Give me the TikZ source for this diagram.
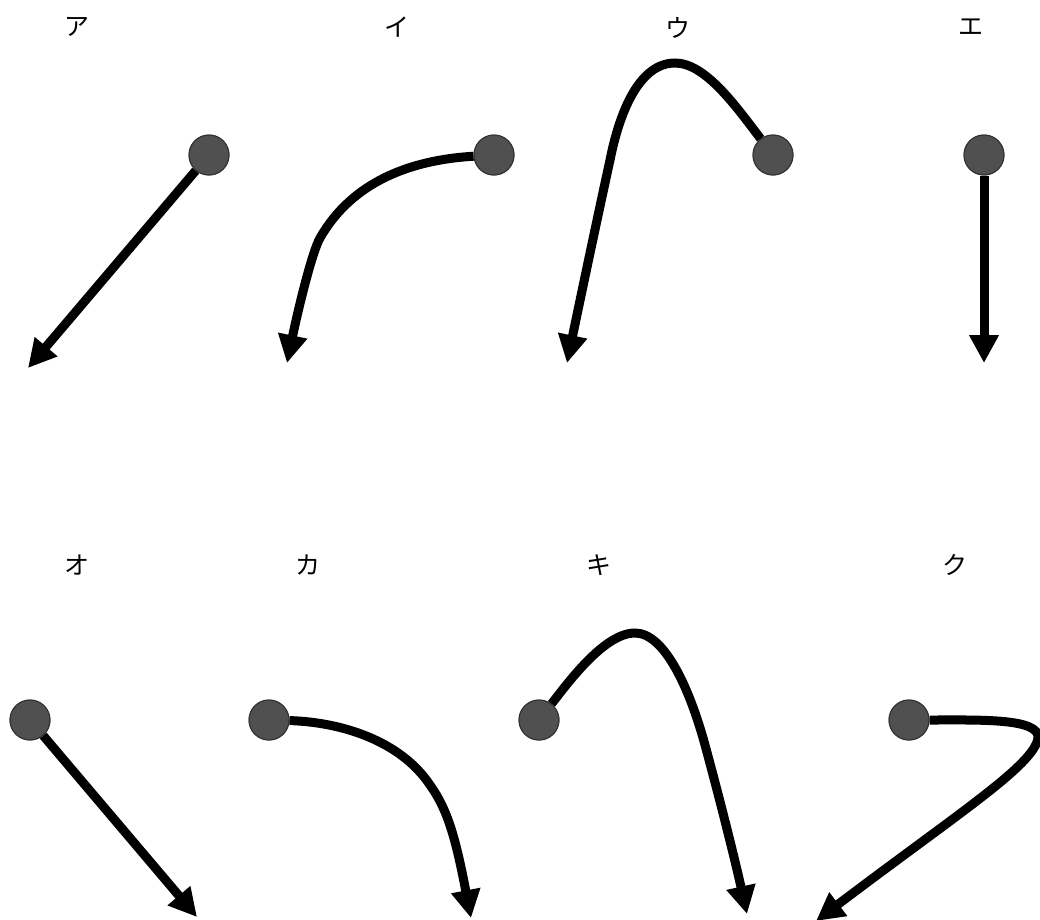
\documentclass[tikz,border=0pt]{standalone}
\usepackage{fontspec}
\newfontfamily\cjk{Noto Sans CJK JP}
\usetikzlibrary{arrows.meta}
\definecolor{ballfill}{HTML}{505050}
\definecolor{ballline}{HTML}{303030}
\tikzset{
  ball/.style={circle, fill=ballfill, draw=ballline, line width=1pt, minimum size=40pt, inner sep=0pt},
  arr/.style={line width=9pt, -{Triangle[length=28pt,width=28pt]}, black},
  lbl/.style={font=\cjk\fontsize{25}{28}\selectfont, inner sep=0pt}
}
\begin{document}
\begin{tikzpicture}[x=1pt,y=-1pt]
\useasboundingbox (0,0) rectangle (1040,919);
% labels
\node[lbl] (la) at (77,27) {ア};
\node[lbl] (lb) at (397,27) {イ};
\node[lbl] (lc) at (678,28) {ウ};
\node[lbl] (ld) at (971,27) {エ};
\node[lbl] (le) at (77,565) {オ};
\node[lbl] (lf) at (308,565) {カ};
\node[lbl] (lg) at (599,565) {キ};
\node[lbl] (lh) at (955,565) {ク};
% tips
\coordinate (ta) at (28,368);
\coordinate (tb) at (287,363);
\coordinate (tc) at (567,363);
\coordinate (td) at (984,363);
\coordinate (te) at (197,917);
\coordinate (tf) at (471,918);
\coordinate (tg) at (747,914);
\coordinate (th) at (816,921);
% balls
\node[ball] (a) at (209,155) {};
\node[ball] (b) at (494,155) {};
\node[ball] (c) at (773,155) {};
\node[ball] (d) at (984,155) {};
\node[ball] (e) at (30,720) {};
\node[ball] (f) at (269,720) {};
\node[ball] (g) at (539,720) {};
\node[ball] (h) at (909,720) {};
% arrows
\draw[arr] (a) -- (ta);
\draw[arr] (b) .. controls (410,160) and (352,182) .. (320,238) .. controls (312,252) and (298,310) .. (tb);
\draw[arr] (c) .. controls (735,105) and (705,63) .. (675,63) .. controls (640,63) and (620,110) .. (610,160) .. controls (598,215) and (580,300) .. (tc);
\draw[arr] (d) -- (td);
\draw[arr] (e) -- (te);
\draw[arr] (f) .. controls (340,722) and (400,740) .. (430,785) .. controls (448,810) and (456,840) .. (tf);
\draw[arr] (g) .. controls (570,680) and (605,633) .. (635,633) .. controls (665,633) and (690,690) .. (705,745) .. controls (720,800) and (735,860) .. (tg);
\draw[arr] (h) .. controls (980,720) and (1040,718) .. (1038,738) .. controls (1034,765) and (960,812) .. (th);
% balls on top
\foreach \p in {(209,155),(494,155),(773,155),(984,155),(30,720),(269,720),(539,720),(909,720)}
  \node[ball] at \p {};
\end{tikzpicture}
\end{document}
